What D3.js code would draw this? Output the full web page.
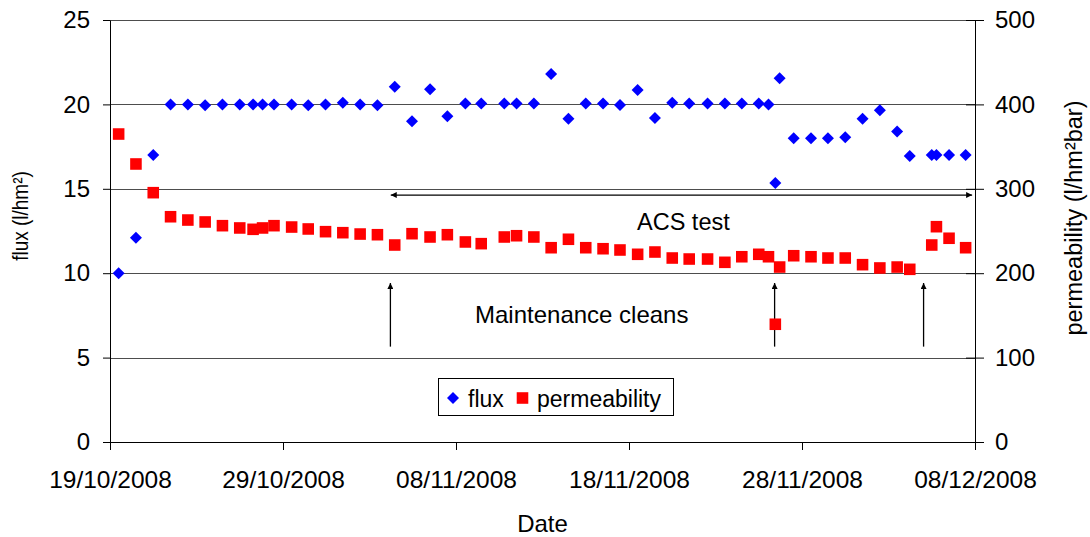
<!DOCTYPE html>
<html>
<head>
<meta charset="utf-8">
<script src="https://cdn.jsdelivr.net/npm/d3@7"></script>
<style>
    body { margin: 0; background: #fff; }
    svg text { font-family: "Liberation Sans", Arial, sans-serif; fill: #000; }
</style>
</head>
<body>
<svg id="chart"></svg>
<script>
// measurement times (day + hour)
var dates = [
    "2008-10-19 12:00", "2008-10-20 12:00", "2008-10-21 12:00", "2008-10-22 12:00", "2008-10-23 12:00",
    "2008-10-24 12:00", "2008-10-25 12:00", "2008-10-26 12:00", "2008-10-27 06:30", "2008-10-27 19:40",
    "2008-10-28 11:30", "2008-10-29 12:00", "2008-10-30 11:00", "2008-10-31 11:00", "2008-11-01 11:00",
    "2008-11-02 11:00", "2008-11-03 11:00", "2008-11-04 11:00", "2008-11-05 11:00", "2008-11-06 12:00",
    "2008-11-07 12:00", "2008-11-08 13:00", "2008-11-09 11:00", "2008-11-10 19:00", "2008-11-11 12:00",
    "2008-11-12 12:00", "2008-11-13 12:00", "2008-11-14 12:00", "2008-11-15 12:00", "2008-11-16 12:00",
    "2008-11-17 11:30", "2008-11-18 12:00", "2008-11-19 12:00", "2008-11-20 12:00", "2008-11-21 11:30",
    "2008-11-22 13:00", "2008-11-23 13:00", "2008-11-24 12:30", "2008-11-25 12:00", "2008-11-26 01:30",
    "2008-11-26 11:00", "2008-11-26 17:00", "2008-11-27 12:30", "2008-11-28 12:30", "2008-11-29 12:00",
    "2008-11-30 12:00", "2008-12-01 12:00", "2008-12-02 12:00", "2008-12-03 12:00", "2008-12-04 05:30",
    "2008-12-05 12:00", "2008-12-05 18:30", "2008-12-06 12:00", "2008-12-07 11:00"
];
var flux = [
    10.0, 12.1, 17.0, 20.0, 20.0, 19.95, 20.0, 20.0, 20.0, 20.0,
    20.0, 20.0, 19.95, 20.0, 20.1, 20.0, 19.95, 21.05, 19.0, 20.9,
    19.3, 20.05, 20.05, 20.05, 20.05, 20.05, 21.8, 19.15, 20.05, 20.05,
    19.97, 20.85, 19.2, 20.1, 20.05, 20.05, 20.05, 20.05, 20.05, 20.0,
    15.35, 21.55, 18.0, 18.0, 18.0, 18.05, 19.15, 19.65, 18.4, 16.95,
    17.0, 17.0, 17.0, 17.0
];
var permeability = [
    364.9, 329.4, 295.4, 266.9, 263.0, 260.7, 256.3, 253.6, 252.0, 253.6,
    256.3, 254.7, 252.4, 249.2, 248.0, 246.4, 245.6, 233.4, 246.8, 242.9,
    245.6, 237.0, 235.0, 242.9, 244.4, 242.9, 230.2, 240.2, 230.2, 229.0,
    227.5, 222.4, 225.1, 218.0, 216.8, 216.8, 212.9, 219.5, 222.4, 219.5,
    139.5, 207.3, 220.7, 219.5, 218.0, 218.0, 210.1, 206.2, 207.3, 204.6,
    233.4, 255.1, 241.4, 230.2
];
var xTicks = ["2008-10-19", "2008-10-29", "2008-11-08", "2008-11-18", "2008-11-28", "2008-12-08"];
var fluxTicks = [0, 5, 10, 15, 20, 25];
var permTicks = [0, 100, 200, 300, 400, 500];
// annotations (dates / flux units)
var cleanDates = ["2008-11-04 05:00", "2008-11-26 10:00", "2008-12-05 00:40"];
var acsSpan = ["2008-11-04 05:30", "2008-12-07 20:00"];

var svgWidth = 1090;
var svgHeight = 537;
var plot = { left: 110, right: 975, top: 20, bottom: 442 };

var parseTime = d3.timeParse("%Y-%m-%d %H:%M");
var parseDay = d3.timeParse("%Y-%m-%d");
var fmt = d3.timeFormat("%d/%m/%Y");

var svg = d3.select("svg#chart")
    .attr("width", svgWidth)
    .attr("height", svgHeight);

var x = d3.scaleTime()
    .domain([parseDay(xTicks[0]), parseDay(xTicks[xTicks.length - 1])])
    .range([plot.left, plot.right]);
var yFlux = d3.scaleLinear().domain([0, 25]).range([plot.bottom, plot.top]);
var yPerm = d3.scaleLinear().domain([0, 500]).range([plot.bottom, plot.top]);

var points = dates.map(function (d, i) {
    return { date: parseTime(d), flux: flux[i], perm: permeability[i] };
});

// arrow heads
var defs = svg.append("defs");
defs.append("marker")
    .attr("id", "head")
    .attr("viewBox", "0 -4 8 8")
    .attr("refX", 8)
    .attr("refY", 0)
    .attr("markerWidth", 7)
    .attr("markerHeight", 6)
    .attr("markerUnits", "userSpaceOnUse")
    .attr("orient", "auto-start-reverse")
    .append("path")
    .attr("d", "M0,-4L8,0L0,4Z")
    .attr("fill", "#000");

// gridlines
svg.append("g")
    .selectAll("line")
    .data(fluxTicks.slice(1))
    .enter()
    .append("line")
    .attr("x1", plot.left)
    .attr("x2", plot.right)
    .attr("y1", function (d) { return Math.round(yFlux(d)) + 0.5; })
    .attr("y2", function (d) { return Math.round(yFlux(d)) + 0.5; })
    .attr("stroke", "#4d4d4d")
    .attr("stroke-width", 1);

// axes
function styleAxis(size) {
    return function (g) {
        g.select(".domain").attr("stroke", "#000");
        g.selectAll(".tick line").attr("stroke", "#000");
        g.selectAll("text").attr("font-size", size).attr("font-family", "Liberation Sans, Arial, sans-serif");
    };
}

svg.append("g")
    .attr("transform", "translate(0," + plot.bottom + ")")
    .call(d3.axisBottom(x)
        .tickValues(xTicks.map(parseDay))
        .tickFormat(fmt)
        .tickSize(8)
        .tickSizeOuter(0)
        .tickPadding(21))
    .call(styleAxis(24.5));

svg.append("g")
    .attr("transform", "translate(" + plot.left + ",0)")
    .call(d3.axisLeft(yFlux)
        .tickValues(fluxTicks)
        .tickSize(7)
        .tickSizeOuter(0)
        .tickPadding(13))
    .call(styleAxis(24));

svg.append("g")
    .attr("transform", "translate(" + plot.right + ",0)")
    .call(d3.axisRight(yPerm)
        .tickValues(permTicks)
        .tickSize(9)
        .tickSizeOuter(0)
        .tickPadding(11))
    .call(styleAxis(24));

// right ticks cross the axis
svg.append("g")
    .selectAll("line")
    .data(permTicks)
    .enter()
    .append("line")
    .attr("x1", plot.right - 9)
    .attr("x2", plot.right)
    .attr("y1", function (d) { return yPerm(d) + 0.5; })
    .attr("y2", function (d) { return yPerm(d) + 0.5; })
    .attr("stroke", "#000");

// axis titles
svg.append("text")
    .text("Date")
    .attr("x", 542.5)
    .attr("y", 532)
    .attr("text-anchor", "middle")
    .attr("font-size", 24);

svg.append("text")
    .text("flux (l/hm²)")
    .attr("transform", "translate(28,216) scale(1.2,1) rotate(-90)")
    .attr("text-anchor", "middle")
    .attr("font-size", 19);

svg.append("text")
    .text("permeability (l/hm²bar)")
    .attr("transform", "translate(1082,218) rotate(-90)")
    .attr("text-anchor", "middle")
    .attr("font-size", 23.5);

// annotations
svg.append("line")
    .attr("x1", x(parseTime(acsSpan[0])))
    .attr("x2", x(parseTime(acsSpan[1])))
    .attr("y1", yFlux(14.63))
    .attr("y2", yFlux(14.63))
    .attr("stroke", "#000")
    .attr("stroke-width", 1.3)
    .attr("marker-start", "url(#head)")
    .attr("marker-end", "url(#head)");

svg.append("text")
    .text("ACS test")
    .attr("x", 637)
    .attr("y", 230)
    .attr("font-size", 23.5);

svg.append("g")
    .selectAll("line")
    .data(cleanDates)
    .enter()
    .append("line")
    .attr("x1", function (d) { return x(parseTime(d)); })
    .attr("x2", function (d) { return x(parseTime(d)); })
    .attr("y1", yFlux(5.65))
    .attr("y2", yFlux(9.42))
    .attr("stroke", "#000")
    .attr("stroke-width", 1.3)
    .attr("marker-end", "url(#head)");

svg.append("text")
    .text("Maintenance cleans")
    .attr("x", 475)
    .attr("y", 323)
    .attr("font-size", 24);

// markers
var diamond = {
    draw: function (context, size) {
        var r = Math.sqrt(size / 2);
        context.moveTo(0, -r);
        context.lineTo(r, 0);
        context.lineTo(0, r);
        context.lineTo(-r, 0);
        context.closePath();
    }
};
var diamondPath = d3.symbol().type(diamond).size(72);
var squarePath = d3.symbol().type(d3.symbolSquare).size(134);

svg.append("g")
    .selectAll("path")
    .data(points)
    .enter()
    .append("path")
    .attr("d", squarePath)
    .attr("fill", "#ff0000")
    .attr("transform", function (d) {
        return "translate(" + x(d.date) + "," + yPerm(d.perm) + ")";
    });

svg.append("g")
    .selectAll("path")
    .data(points)
    .enter()
    .append("path")
    .attr("d", diamondPath)
    .attr("fill", "#0000ff")
    .attr("transform", function (d) {
        return "translate(" + x(d.date) + "," + yFlux(d.flux) + ")";
    });

// legend
var legend = svg.append("g").attr("transform", "translate(438,378)");
legend.append("rect")
    .attr("x", 0.5)
    .attr("y", 0.5)
    .attr("width", 235)
    .attr("height", 37)
    .attr("fill", "#fff")
    .attr("stroke", "#000");
legend.append("path")
    .attr("d", diamondPath)
    .attr("fill", "#0000ff")
    .attr("transform", "translate(15,20)");
legend.append("text")
    .text("flux")
    .attr("x", 30)
    .attr("y", 29)
    .attr("font-size", 23);
legend.append("path")
    .attr("d", squarePath)
    .attr("fill", "#ff0000")
    .attr("transform", "translate(84.5,20)");
legend.append("text")
    .text("permeability")
    .attr("x", 99)
    .attr("y", 29)
    .attr("font-size", 23);
</script>
</body>
</html>
